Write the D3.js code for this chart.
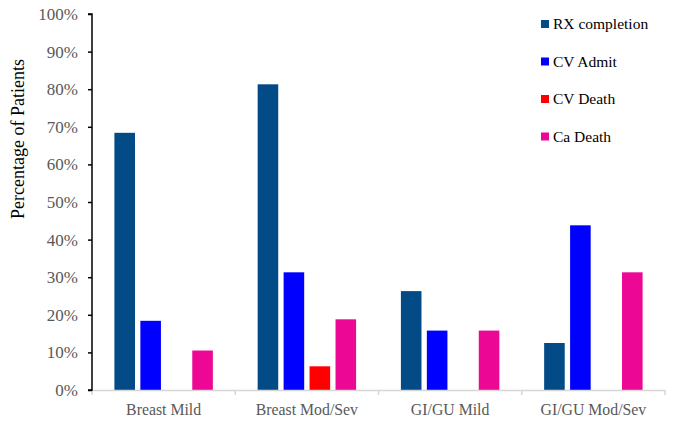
<!DOCTYPE html>
<html><head><meta charset="utf-8">
<script src="https://cdn.jsdelivr.net/npm/d3@7"></script>
<style>body{margin:0;background:#fff}</style>
</head><body>
<svg id="chart" width="678" height="427"></svg>
<script>
const categories = ["Breast Mild", "Breast Mod/Sev", "GI/GU Mild", "GI/GU Mod/Sev"];
const seriesNames = ["RX completion", "CV Admit", "CV Death", "Ca Death"];
const seriesColors = ["#034b87", "#0000ff", "#ff0000", "#ec0894"];
const rxCompletion = [68.4, 81.3, 26.3, 12.5];
const cvAdmit = [18.4, 31.3, 15.8, 43.8];
const cvDeath = [0, 6.3, 0, 0];
const caDeath = [10.5, 18.8, 15.8, 31.3];
const yTicks = [0, 10, 20, 30, 40, 50, 60, 70, 80, 90, 100];
const seriesValues = [rxCompletion, cvAdmit, cvDeath, caDeath];

(function () {
const svg = d3.select("#chart");
const mLeft = 92, mRight = 665, mTop = 14, mBottom = 390;
const serif = "'Liberation Serif', 'Times New Roman', serif";

const x0 = d3.scaleBand().domain(categories).range([mLeft, mRight]).paddingInner(0.3127).paddingOuter(0.1564);
const x1 = d3.scaleBand().domain(seriesNames).range([0, x0.bandwidth()]).paddingInner(0.207);
const y = d3.scaleLinear().domain([0, 100]).range([mBottom, mTop]);

// bars
categories.forEach((c, ci) => {
  const g = svg.append("g").attr("transform", `translate(${x0(c)},0)`);
  seriesNames.forEach((s, si) => {
    const v = seriesValues[si][ci];
    if (v <= 0) return;
    g.append("rect")
      .attr("x", x1(s)).attr("width", x1.bandwidth())
      .attr("y", y(v)).attr("height", y(0) - y(v))
      .attr("fill", seriesColors[si]);
  });
});

// x axis: grey line with boundary ticks
const xb = d3.scalePoint().domain(d3.range(categories.length + 1)).range([mLeft, mRight]);
const xAxisG = svg.append("g");
xAxisG.append("line").attr("x1", mLeft).attr("x2", mRight).attr("y1", mBottom + 0.5).attr("y2", mBottom + 0.5)
  .attr("stroke", "#d6d6d6").attr("stroke-width", 1.5);
xAxisG.selectAll("line.tk").data(xb.domain()).join("line").attr("class", "tk")
  .attr("x1", d => xb(d)).attr("x2", d => xb(d)).attr("y1", mBottom).attr("y2", mBottom + 5)
  .attr("stroke", "#d6d6d6").attr("stroke-width", 1.5);
xAxisG.selectAll("text").data(categories).join("text")
  .attr("x", d => x0(d) + x0.bandwidth() / 2).attr("y", 415)
  .attr("text-anchor", "middle").attr("font-family", serif).attr("font-size", 15.8)
  .attr("fill", "#595959").text(d => d);

// y axis
const yAxis = d3.axisLeft(y).tickValues(yTicks).tickSize(4).tickPadding(10).tickFormat(d => d + "%");
const yg = svg.append("g").attr("transform", `translate(${mLeft},0)`).call(yAxis);
yg.select(".domain").attr("stroke", "#000").attr("stroke-width", 1.5).attr("d", `M-4,${mTop}H0V${mBottom}H-4`);
yg.selectAll(".tick line").attr("stroke", "#000").attr("stroke-width", 1.5);
yg.selectAll(".tick text").attr("font-family", serif).attr("font-size", 17).attr("fill", "#595959");

// y title
svg.append("text").attr("transform", `translate(24,139) rotate(-90)`)
  .attr("text-anchor", "middle").attr("font-family", serif).attr("font-size", 18).attr("fill", "#000")
  .text("Percentage of Patients");

// legend
const lg = svg.append("g");
seriesNames.forEach((s, i) => {
  const cy = 24 + i * 37.5;
  lg.append("rect").attr("x", 541).attr("y", cy - 4).attr("width", 8).attr("height", 8).attr("fill", seriesColors[i]);
  lg.append("text").attr("x", 553).attr("y", cy + 5).attr("font-family", serif).attr("font-size", 15.5)
    .attr("fill", "#000").text(s);
});
})();
</script>
</body></html>
